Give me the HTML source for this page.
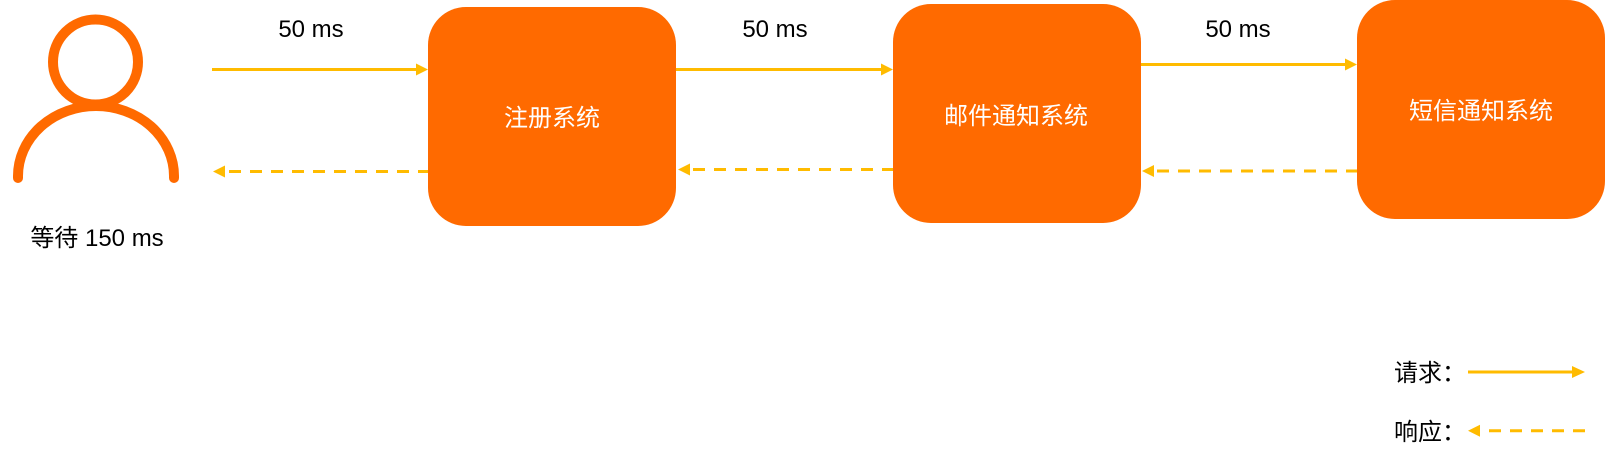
<!DOCTYPE html>
<html>
<head>
<meta charset="utf-8">
<style>
  html, body { margin: 0; padding: 0; background: #ffffff; }
  body { width: 1605px; height: 462px; overflow: hidden; }
  svg { display: block; }
  text { font-family: "Liberation Sans", "Noto Sans CJK SC", sans-serif; }
</style>
</head>
<body>
<svg width="1605" height="462" viewBox="0 0 1605 462" xmlns="http://www.w3.org/2000/svg">
  <rect x="0" y="0" width="1605" height="462" fill="#ffffff"/>

  <!-- Person icon -->
  <circle cx="95.5" cy="62" r="42.5" fill="none" stroke="#FF6A00" stroke-width="10"/>
  <path d="M18 178 L18 176 A78 70 0 0 1 174 176 L174 178" fill="none" stroke="#FF6A00" stroke-width="10" stroke-linecap="round"/>
  <text x="97" y="246" font-size="24" fill="#000" text-anchor="middle">等待 150 ms</text>

  <!-- Boxes -->
  <rect x="428" y="7" width="248" height="219" rx="38" ry="38" fill="#FF6A00"/>
  <rect x="893" y="4" width="248" height="219" rx="38" ry="38" fill="#FF6A00"/>
  <rect x="1357" y="0" width="248" height="219" rx="38" ry="38" fill="#FF6A00"/>

  <text x="552" y="126" font-size="24" fill="#ffffff" text-anchor="middle">注册系统</text>
  <text x="1016" y="124" font-size="24" fill="#ffffff" text-anchor="middle">邮件通知系统</text>
  <text x="1481" y="119" font-size="24" fill="#ffffff" text-anchor="middle">短信通知系统</text>

  <!-- Labels -->
  <text x="311" y="37" font-size="24" fill="#000" text-anchor="middle">50 ms</text>
  <text x="775" y="37" font-size="24" fill="#000" text-anchor="middle">50 ms</text>
  <text x="1238" y="37" font-size="24" fill="#000" text-anchor="middle">50 ms</text>

  <!-- Request arrows (solid) -->
  <g stroke="#FFBB00" stroke-width="3" fill="none">
    <line x1="212" y1="69.5" x2="417" y2="69.5"/>
    <line x1="676" y1="69.5" x2="882" y2="69.5"/>
    <line x1="1141" y1="64.5" x2="1346" y2="64.5"/>
    <line x1="1468" y1="372" x2="1573" y2="372"/>
  </g>
  <g fill="#FFBB00">
    <polygon points="416,63.5 428,69.5 416,75.5"/>
    <polygon points="881,63.5 893,69.5 881,75.5"/>
    <polygon points="1345,58.5 1357,64.5 1345,70.5"/>
    <polygon points="1572,366 1585,372 1572,378"/>
  </g>

  <!-- Response arrows (dashed) -->
  <g stroke="#FFBB00" stroke-width="3" fill="none" stroke-dasharray="12 9">
    <line x1="229" y1="171.5" x2="428" y2="171.5"/>
    <line x1="693" y1="169.5" x2="893" y2="169.5"/>
    <line x1="1157" y1="171" x2="1357" y2="171"/>
    <line x1="1489" y1="430.7" x2="1585" y2="430.7"/>
  </g>
  <g fill="#FFBB00">
    <polygon points="225,165.5 213,171.5 225,177.5"/>
    <polygon points="690,163.5 678,169.5 690,175.5"/>
    <polygon points="1154,165 1142,171 1154,177"/>
    <polygon points="1480,424.7 1468,430.7 1480,436.7"/>
  </g>

  <!-- Legend -->
  <text x="1394" y="381" font-size="24" fill="#000">请求：</text>
  <text x="1394" y="440" font-size="24" fill="#000">响应：</text>
</svg>
</body>
</html>
